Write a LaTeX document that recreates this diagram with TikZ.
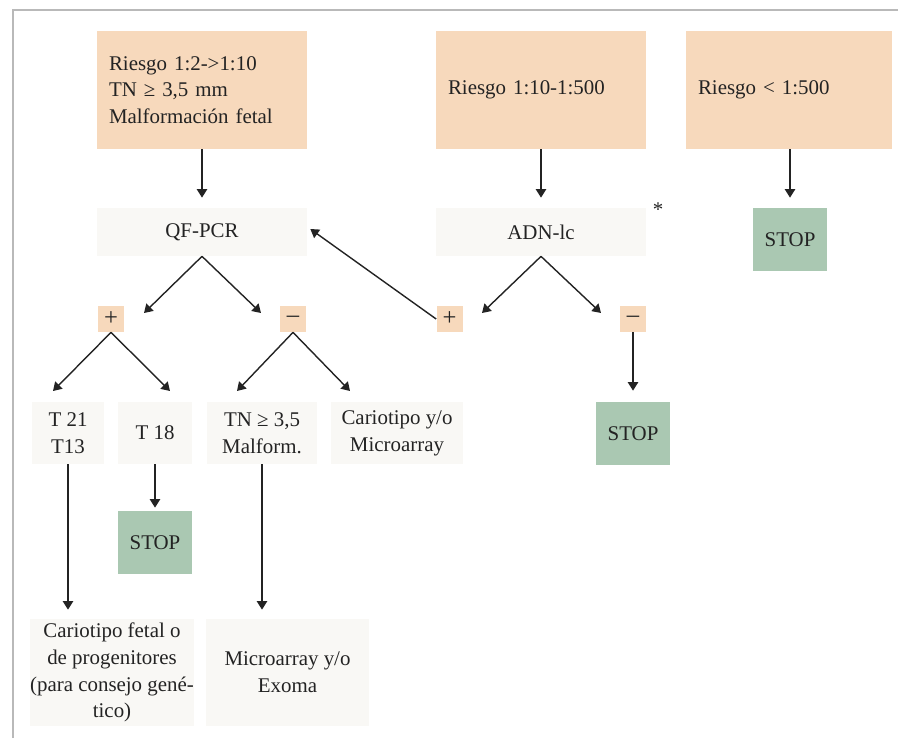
\documentclass[tikz,border=0pt]{standalone}
\usepackage{fontspec}
\setmainfont{Liberation Serif}
\usepackage{tikz}
\usetikzlibrary{arrows.meta, positioning}
\definecolor{mypeach}{RGB}{247,217,188}
\definecolor{mygreen}{RGB}{170,200,178}
\definecolor{mylight}{RGB}{249,248,245}
\definecolor{mydark}{RGB}{35,35,35}
\definecolor{myframe}{RGB}{185,185,185}
\newcommand{\boxfont}{\fontsize{11.9}{15.2}\selectfont}
\tikzset{
  riskbox/.style={rectangle, fill=mypeach, text width=3.72cm, align=left,
    inner xsep=0.24cm, minimum height=2.36cm, font=\boxfont, text=mydark},
  testbox/.style={rectangle, fill=mylight, align=center, inner sep=0pt,
    font=\boxfont, text=mydark},
  stopbox/.style={rectangle, fill=mygreen, minimum width=1.48cm,
    minimum height=1.26cm, inner sep=0pt, font=\boxfont, text=mydark},
  signbox/.style={rectangle, fill=mypeach, minimum size=0.52cm,
    inner sep=0pt, font=\fontsize{14}{15}\selectfont, text=mydark},
  arrow/.style={-{Triangle[width=5.8pt,length=4.8pt]}, line width=0.8pt, color=mydark}
}

\begin{document}
\begin{tikzpicture}[x=0.02cm, y=-0.02cm]
  \useasboundingbox (0,0) rectangle (898,738);
  % Frame
  \draw[myframe, line width=0.9pt] (13,738) -- (13,10) -- (898,10);

  % Risk groups
  \node[riskbox] (risk1) at (202,90) {Riesgo 1:2->1:10\\TN ≥ 3,5 mm\\Malformación fetal};
  \node[riskbox] (risk2) at (541,90) {Riesgo 1:10-1:500};
  \node[riskbox, text width=3.64cm] (risk3) at (789,90) {Riesgo < 1:500};

  % First tests
  \node[testbox, minimum width=4.2cm, minimum height=0.96cm] (qf) at (202,232) {QF-PCR};
  \node[testbox, minimum width=4.2cm, minimum height=0.96cm] (adn) at (541,232) {ADN-lc};
  \node[font=\boxfont, text=mydark, inner sep=0pt] (ast) at (658,210) {*};
  \node[stopbox] (stop1) at (790,239.5) {STOP};

  \draw[arrow, shorten >=0.2cm] (risk1) -- (qf);
  \draw[arrow, shorten >=0.2cm] (risk2) -- (adn);
  \draw[arrow, shorten >=0.2cm] (risk3.south -| stop1) -- (stop1.north);

  % Results
  \node[signbox] (plusA) at (111,319) {+};
  \node[signbox] (minusA) at (293,319) {–};
  \node[signbox] (plusB) at (449.5,319) {+};
  \node[signbox] (minusB) at (633,319) {–};

  \coordinate (qfL) at (144,313);
  \coordinate (qfR) at (261,313);
  \coordinate (adnL) at (482,313);
  \coordinate (adnR) at (601,313);
  \draw[arrow] (qf.south) -- (qfL);
  \draw[arrow] (qf.south) -- (qfR);
  \draw[arrow] (adn.south) -- (adnL);
  \draw[arrow] (adn.south) -- (adnR);
  \draw[arrow] (plusB.west) -- ([shift={(3,-3)}]qf.east);

  % Second level
  \node[testbox, minimum width=1.44cm, minimum height=1.24cm] (t21) at (68,433) {T 21\\T13};
  \node[testbox, minimum width=1.48cm, minimum height=1.24cm] (t18) at (155,433) {T 18};
  \node[testbox, minimum width=2.2cm, minimum height=1.24cm] (tn) at (262,433) {TN ≥ 3,5\\Malform.};
  \node[testbox, minimum width=2.64cm, minimum height=1.24cm] (cario) at (397,433) {Cariotipo y/o\\Microarray};
  \node[stopbox] (stop3) at (633,433.5) {STOP};
  \node[stopbox] (stop2) at (155,542.5) {STOP};

  \coordinate (plusAL) at (53,391);
  \coordinate (plusAR) at (170,391);
  \coordinate (minusAL) at (237,391);
  \coordinate (minusAR) at (350,391);
  \draw[arrow] (plusA.south) -- (plusAL);
  \draw[arrow] (plusA.south) -- (plusAR);
  \draw[arrow] (minusA.south) -- (minusAL);
  \draw[arrow] (minusA.south) -- (minusAR);
  \draw[arrow, shorten >=0.22cm] (minusB) -- (stop3);
  \draw[arrow, shorten >=0.06cm] (t18) -- (stop2);

  % Final tests
  \node[testbox, minimum width=3.24cm, minimum height=2.14cm] (cfetal) at (112,672.5)
    {Cariotipo fetal o\\de progenitores\\(para consejo gené-\\tico)};
  \node[testbox, minimum width=3.26cm, minimum height=2.14cm] (micro) at (287.5,672.5)
    {Microarray y/o\\Exoma};
  \draw[arrow, shorten >=0.18cm] (t21.south) -- (t21.south |- cfetal.north);
  \draw[arrow, shorten >=0.18cm] (tn.south) -- (tn.south |- micro.north);
\end{tikzpicture}
\end{document}
